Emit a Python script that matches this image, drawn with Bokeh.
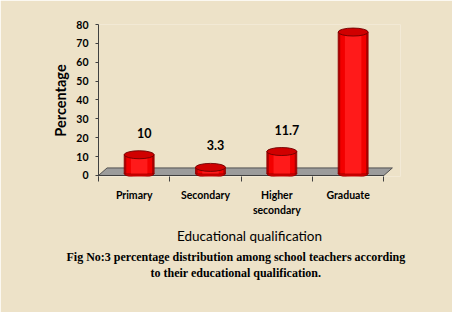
from bokeh.plotting import figure
from bokeh.models import (Range1d, FixedTicker, ColumnDataSource, LabelSet, Title)
from bokeh.core.properties import value
from bokeh.embed import file_html
from bokeh.resources import INLINE

# ---- data ----
categories = ["Primary", "Secondary", "Higher\nsecondary", "Graduate"]
values = [10, 3.3, 11.7, 75]
value_labels = ["10", "3.3", "11.7", "75"]
y_ticks = [0, 10, 20, 30, 40, 50, 60, 70, 80]
y_title = "Percentage"
x_title = "Educational qualification"
caption = ["Fig No:3 percentage  distribution  among school teachers  according",
           "to their educational qualification."]

BG = "#EDE2C8"
n = len(categories)

p = figure(width=452, height=312, output_backend="svg", toolbar_location=None,
           x_range=Range1d(0, 4.234), y_range=Range1d(-0.53, 80),
           min_border_left=98, min_border_right=52, min_border_top=24,
           min_border_bottom=136)
p.background_fill_color = BG
p.border_fill_color = BG
p.outline_line_color = None
p.grid.visible = False

# y axis
ya = p.yaxis[0]
ya.ticker = FixedTicker(ticks=y_ticks)
ya.axis_line_color = "#404040"
ya.major_tick_line_color = "#404040"
ya.major_tick_out = 3
ya.major_tick_in = 0
ya.minor_tick_line_color = None
ya.major_label_standoff = 7
ya.major_label_text_font = "Lato"
ya.major_label_text_font_style = "bold"
ya.major_label_text_font_size = "10.5px"
ya.major_label_text_color = "black"
ya.axis_label = y_title
ya.axis_label_text_font = "Lato"
ya.axis_label_text_font_style = "bold"
ya.axis_label_text_font_size = "14.5px"
ya.axis_label_text_color = "black"
ya.axis_label_standoff = 4

# x axis
xa = p.xaxis[0]
centers = [i + 0.5 for i in range(n)]
xa.ticker = FixedTicker(ticks=centers, minor_ticks=list(range(n + 1)))
xa.major_label_overrides = {c: lab for c, lab in zip(centers, categories)}
xa.axis_line_color = None
xa.major_tick_line_color = None
xa.major_tick_out = 0
xa.major_tick_in = 0
xa.minor_tick_line_color = "#404040"
xa.minor_tick_out = 5
xa.minor_tick_in = 0
xa.major_label_standoff = 7
xa.major_label_text_font = "Lato"
xa.major_label_text_font_style = "bold"
xa.major_label_text_font_size = "10.5px"
xa.major_label_text_color = "black"
xa.major_label_text_line_height = 1.3
xa.axis_label = x_title
xa.axis_label_text_font = "Lato"
xa.axis_label_text_font_style = "normal"
xa.axis_label_text_font_size = "13.5px"
xa.axis_label_text_color = "black"
xa.axis_label_standoff = 9

# caption below the axis (left aligned, offsets relative to frame left)
cap_offsets = [-32, 52]
for line, off in zip(caption, cap_offsets):
    p.add_layout(Title(text=line, align="left", offset=off, standoff=0,
                       text_font="Liberation Serif", text_font_style="bold",
                       text_font_size="12px", text_color="black",
                       text_line_height=0.75), "below")

# floor (3D base)
p.patch([0, 0.12, n + 0.12, n], [0, 4.0, 4.0, 0],
        fill_color="#9C9C9C", line_color="#505050", line_width=1)
p.segment(x0=[0], y0=[0], x1=[n], y1=[0], line_color="#404040", line_width=1.2)

# cylinders
dx = 0.07
base = 1.0
bw = 0.42
eh = 4.24
src = ColumnDataSource(dict(
    x=[c + dx for c in centers],
    top=[v + base for v in values],
    bottom=[base] * n,
    lx=[c + 0.14 for c in centers],
    ly=[v + 12.6 for v in values],
    lab=value_labels,
))
p.ellipse(x="x", y="bottom", width=bw, height=eh, source=src,
          fill_color="#C80000", line_color="#8A0000", line_width=0.8)
p.vbar(x="x", bottom="bottom", top="top", width=bw, source=src,
       fill_color="#B00000", line_color="#8A0000", line_width=0.8)
p.vbar(x="x", bottom="bottom", top="top", width=bw * 0.86, source=src,
       fill_color="#F20000", line_color=None)
p.vbar(x="x", bottom="bottom", top="top", width=bw * 0.55, source=src,
       fill_color="#FF1A1A", line_color=None)
p.ellipse(x="x", y="top", width=bw, height=eh, source=src,
          fill_color="#D00000", line_color="#6E0000", line_width=0.9)

labels = LabelSet(x="lx", y="ly", text="lab", source=src,
                  text_align="center", text_baseline="middle",
                  text_font=value("Lato"), text_font_style="bold",
                  text_font_size="12.5px", text_color="black")
p.add_layout(labels)

open("out.html", "w").write(file_html(p, INLINE))
